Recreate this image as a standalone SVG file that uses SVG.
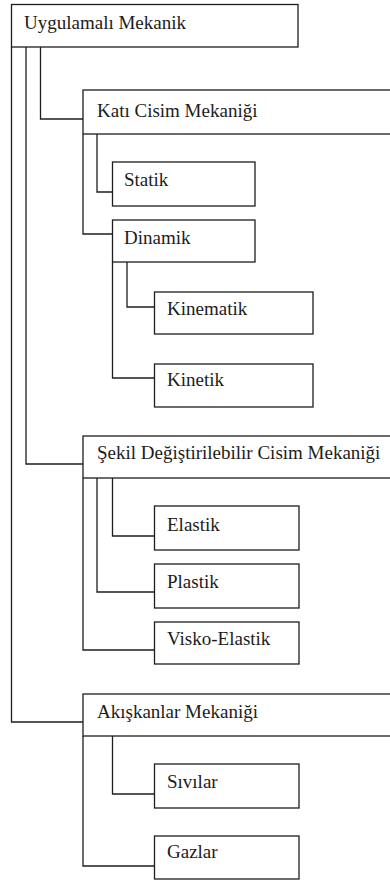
<svg xmlns="http://www.w3.org/2000/svg" width="390" height="880" viewBox="0 0 390 880">
<style>
.box{fill:#fff;stroke:#1e1e1e;stroke-width:1.3}
.con{fill:none;stroke:#1e1e1e;stroke-width:1.3}
.lbl{font-family:'Liberation Serif','Times New Roman',serif;font-size:19px;fill:#1c1c1c}
</style>
<rect x="0" y="0" width="390" height="880" fill="#fff"/>
<g id="connectors">
<path class="con" d="M11.5 47 V722 H83"/>
<path class="con" d="M26 47 V464 H83"/>
<path class="con" d="M40.5 47 V119 H83"/>
<path class="con" d="M97 134 V192 H112"/>
<path class="con" d="M83 134 V234 H112"/>
<path class="con" d="M127 262 V307 H154"/>
<path class="con" d="M112.5 262 V378 H154"/>
<path class="con" d="M112.5 478 V536 H154"/>
<path class="con" d="M97 478 V592 H154"/>
<path class="con" d="M83 478 V650 H154"/>
<path class="con" d="M112.5 736 V794 H154"/>
<path class="con" d="M83 736 V866 H154"/>
</g>
<g id="n-root"><rect class="box" x="11.5" y="4.5" width="286.5" height="42.5"/><text class="lbl" x="24" y="29">Uygulamalı Mekanik</text></g>
<g id="n-kati"><rect class="box" x="83" y="90" width="320" height="44"/><text class="lbl" x="97" y="117">Katı Cisim Mekaniği</text></g>
<g id="n-statik"><rect class="box" x="112.5" y="162" width="142.5" height="44"/><text class="lbl" x="124" y="186">Statik</text></g>
<g id="n-dinamik"><rect class="box" x="112.5" y="220" width="142.5" height="42"/><text class="lbl" x="124" y="244">Dinamik</text></g>
<g id="n-kinematik"><rect class="box" x="154.5" y="292" width="158.5" height="42"/><text class="lbl" x="167" y="315">Kinematik</text></g>
<g id="n-kinetik"><rect class="box" x="154.5" y="364" width="158.5" height="43"/><text class="lbl" x="167" y="386">Kinetik</text></g>
<g id="n-sekil"><rect class="box" x="83" y="436" width="320" height="42"/><text class="lbl" x="97" y="459">Şekil Değiştirilebilir Cisim Mekaniği</text></g>
<g id="n-elastik"><rect class="box" x="154.5" y="506" width="144.5" height="44"/><text class="lbl" x="167" y="531">Elastik</text></g>
<g id="n-plastik"><rect class="box" x="154.5" y="564" width="144.5" height="44"/><text class="lbl" x="167" y="588">Plastik</text></g>
<g id="n-visko"><rect class="box" x="154.5" y="622" width="144.5" height="42"/><text class="lbl" x="167" y="645">Visko-Elastik</text></g>
<g id="n-akiskan"><rect class="box" x="83" y="694" width="320" height="42"/><text class="lbl" x="97" y="718">Akışkanlar Mekaniği</text></g>
<g id="n-sivilar"><rect class="box" x="154.5" y="764" width="144.5" height="44"/><text class="lbl" x="167" y="788">Sıvılar</text></g>
<g id="n-gazlar"><rect class="box" x="154.5" y="836" width="144.5" height="43"/><text class="lbl" x="167" y="858">Gazlar</text></g>
</svg>
